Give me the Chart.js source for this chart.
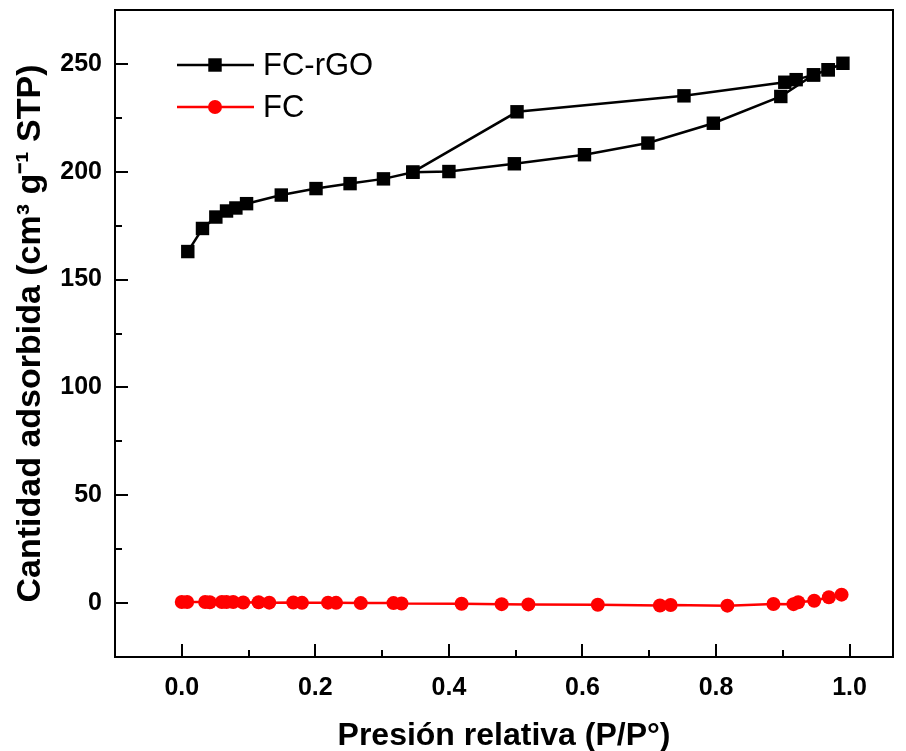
<!DOCTYPE html>
<html>
<head>
<meta charset="utf-8">
<title>Isoterma de adsorción</title>
<script src="https://cdn.jsdelivr.net/npm/chart.js@4.4.0/dist/chart.umd.min.js"></script>
<style>
  html, body { margin: 0; padding: 0; background: #fff; }
  #wrap { width: 906px; height: 751px; }
</style>
</head>
<body>
<div id="wrap"><canvas id="isoChart"></canvas></div>
<script>
// FC-rGO: adsorption then desorption branch
const rgoX = [0.009, 0.031, 0.051, 0.067, 0.081, 0.097, 0.149, 0.201, 0.252, 0.302, 0.346, 0.400,
              0.498, 0.603, 0.698, 0.796, 0.897, 0.946, 0.968, 0.990,
              0.968, 0.946, 0.920, 0.903, 0.752, 0.502, 0.346];
const rgoY = [163.0, 173.7, 179.0, 181.8, 183.2, 185.2, 189.2, 192.2, 194.5, 196.7, 199.8, 200.1,
              203.7, 207.9, 213.3, 222.5, 234.9, 244.9, 247.3, 250.3,
              247.3, 244.9, 242.7, 241.5, 235.2, 227.8, 199.8];

// FC
const fcX = [0.000, 0.008, 0.035, 0.042, 0.060, 0.067, 0.077, 0.092, 0.115, 0.131, 0.167, 0.180,
             0.219, 0.231, 0.268, 0.317, 0.329, 0.419, 0.479, 0.519, 0.623, 0.716, 0.732, 0.817,
             0.886, 0.916, 0.923, 0.947, 0.969, 0.988];
const fcY = [0.5, 0.5, 0.5, 0.4, 0.5, 0.5, 0.5, 0.3, 0.4, 0.2, 0.3, 0.1,
             0.2, 0.1, 0.0, 0.0, -0.2, -0.3, -0.5, -0.6, -0.8, -1.1, -0.9, -1.2,
             -0.4, -0.5, 0.4, 1.1, 2.7, 3.9];

const xTicks = [0.0, 0.2, 0.4, 0.6, 0.8, 1.0];
const xMinor = [0.1, 0.3, 0.5, 0.7, 0.9];
const yTicks = [0, 50, 100, 150, 200, 250];
const yMinor = [25, 75, 125, 175, 225];

const FONT = "'Liberation Sans', Arial, Helvetica, sans-serif";

function toPoints(xs, ys) {
  return xs.map((x, i) => ({ x: x, y: ys[i] }));
}

// frame box + inward ticks
const framePlugin = {
  id: 'frame',
  afterDraw(chart) {
    const { ctx, chartArea: a, scales: { x, y } } = chart;
    ctx.save();
    ctx.strokeStyle = '#000';
    ctx.lineWidth = 2;
    ctx.strokeRect(a.left, a.top, a.right - a.left, a.bottom - a.top);
    ctx.beginPath();
    xTicks.forEach(v => {
      const px = Math.round(x.getPixelForValue(v));
      ctx.moveTo(px, a.bottom); ctx.lineTo(px, a.bottom - 13);
    });
    xMinor.forEach(v => {
      const px = Math.round(x.getPixelForValue(v));
      ctx.moveTo(px, a.bottom); ctx.lineTo(px, a.bottom - 7);
    });
    yTicks.forEach(v => {
      const py = Math.round(y.getPixelForValue(v));
      ctx.moveTo(a.left, py); ctx.lineTo(a.left + 13, py);
    });
    yMinor.forEach(v => {
      const py = Math.round(y.getPixelForValue(v));
      ctx.moveTo(a.left, py); ctx.lineTo(a.left + 7, py);
    });
    ctx.stroke();
    ctx.restore();
  }
};

// legend: line with marker, like the original
const lineLegend = {
  id: 'lineLegend',
  afterDraw(chart) {
    const ctx = chart.ctx;
    const x0 = 177, x1 = 254, xm = 215, xt = 263;
    const rows = [65, 107];
    ctx.save();
    chart.data.datasets.forEach((ds, i) => {
      const yy = rows[i];
      ctx.strokeStyle = ds.borderColor;
      ctx.fillStyle = ds.backgroundColor;
      ctx.lineWidth = ds.borderWidth;
      ctx.beginPath();
      ctx.moveTo(x0, yy); ctx.lineTo(x1, yy);
      ctx.stroke();
      if (ds.pointStyle === 'rect') {
        const s = ds.pointRadius * Math.SQRT1_2;
        ctx.fillRect(xm - s, yy - s, 2 * s, 2 * s);
      } else {
        ctx.beginPath();
        ctx.arc(xm, yy, ds.pointRadius, 0, Math.PI * 2);
        ctx.fill();
      }
      ctx.fillStyle = '#000';
      ctx.font = '31px ' + FONT;
      ctx.textBaseline = 'middle';
      ctx.fillText(ds.label, xt, yy + 1);
    });
    ctx.restore();
  }
};

const ctx = document.getElementById('isoChart').getContext('2d');
new Chart(ctx, {
  type: 'scatter',
  data: {
    datasets: [
      {
        label: 'FC-rGO',
        data: toPoints(rgoX, rgoY),
        showLine: true,
        borderColor: '#000000',
        backgroundColor: '#000000',
        borderWidth: 2.5,
        pointStyle: 'rect',
        pointRadius: 9.5,
        pointBorderWidth: 0,
        tension: 0
      },
      {
        label: 'FC',
        data: toPoints(fcX, fcY),
        showLine: true,
        borderColor: '#ff0000',
        backgroundColor: '#ff0000',
        borderWidth: 2.5,
        pointStyle: 'circle',
        pointRadius: 7,
        pointBorderWidth: 0,
        tension: 0
      }
    ]
  },
  options: {
    responsive: true,
    maintainAspectRatio: false,
    animation: false,
    layout: { padding: { left: 0, right: 13, top: 10, bottom: 0 } },
    plugins: {
      legend: { display: false },
      tooltip: { enabled: false }
    },
    scales: {
      x: {
        type: 'linear',
        min: -0.1,
        max: 1.065,
        grid: { display: false, drawTicks: false },
        border: { display: false },
        afterBuildTicks: s => { s.ticks = xTicks.map(v => ({ value: v })); },
        afterFit: s => { s.height = 94; s.paddingLeft = 0; s.paddingRight = 0; },
        ticks: {
          padding: 16,
          color: '#000',
          font: { family: FONT, size: 25, weight: 'bold' },
          callback: v => Number(v).toFixed(1)
        },
        title: {
          display: true,
          text: 'Presión relativa (P/P°)',
          color: '#000',
          font: { family: FONT, size: 32, weight: 'bold', lineHeight: 0.9 },
          padding: { top: 0, bottom: 0 }
        }
      },
      y: {
        type: 'linear',
        min: -25,
        max: 275,
        grid: { display: false, drawTicks: false },
        border: { display: false },
        afterBuildTicks: s => { s.ticks = yTicks.map(v => ({ value: v })); },
        afterFit: s => { s.width = 115; s.paddingTop = 0; s.paddingBottom = 0; },
        ticks: {
          padding: 13,
          color: '#000',
          font: { family: FONT, size: 25, weight: 'bold' }
        },
        title: {
          display: true,
          text: 'Cantidad adsorbida (cm³ g⁻¹ STP)',
          color: '#000',
          font: { family: FONT, size: 34, weight: 'bold' },
          padding: { top: 10, bottom: 0 }
        }
      }
    }
  },
  plugins: [framePlugin, lineLegend]
});
</script>
</body>
</html>
